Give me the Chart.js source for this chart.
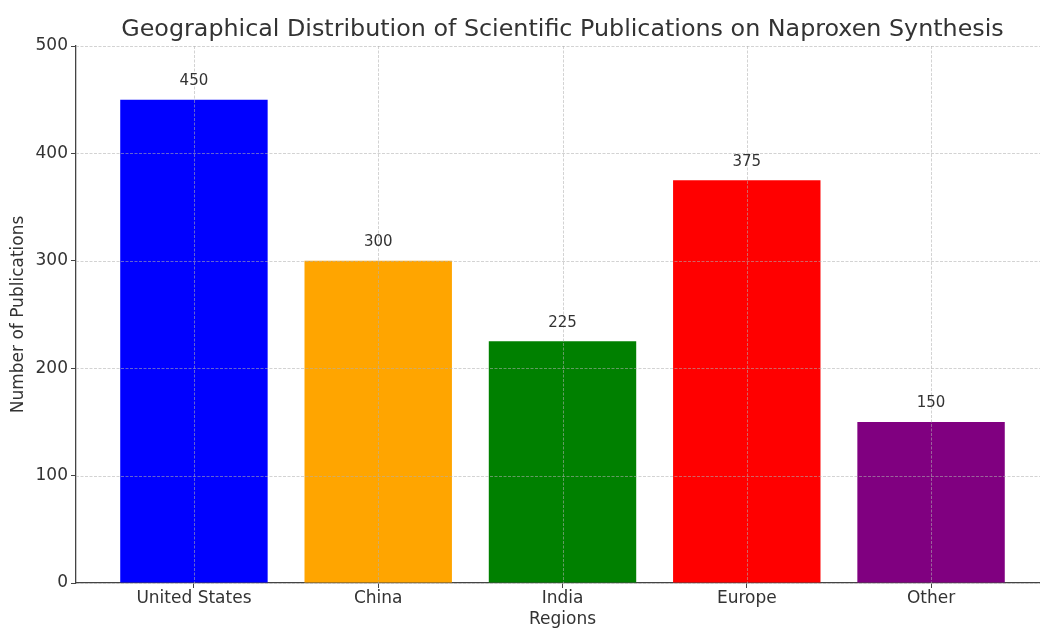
<!DOCTYPE html>
<html>
<head>
<meta charset="utf-8">
<script src="https://cdn.jsdelivr.net/npm/chart.js@4.4.0/dist/chart.umd.min.js"></script>
<style>
html,body{margin:0;padding:0;background:#fff;overflow:hidden;width:1040px;height:628px;}
canvas{display:block;}
</style>
</head>
<body>
<canvas id="c" width="1060" height="628"></canvas>
<script>
const categories = ["United States", "China", "India", "Europe", "Other"];
const publications = [450, 300, 225, 375, 150];
const barColors = ["#0000ff", "#ffa500", "#008000", "#ff0000", "#800080"];
const yTicks = [0, 100, 200, 300, 400, 500];
const titleText = "Geographical Distribution of Scientific Publications on Naproxen Synthesis";

const FONT = "'DejaVu Sans', sans-serif";
const TEXT = "#333333";

const overlayGrid = {
  id: 'overlayGrid',
  afterDatasetsDraw(chart) {
    const {ctx, chartArea: a, scales: {x, y}} = chart;
    ctx.save();
    ctx.strokeStyle = 'rgba(176,176,176,0.7)';
    ctx.lineWidth = 0.8;
    ctx.setLineDash([3, 1.5]);
    x.ticks.forEach((t) => {
      const px = Math.round(x.getPixelForValue(t.value)) + 0.5;
      ctx.beginPath(); ctx.moveTo(px, a.top); ctx.lineTo(px, a.bottom); ctx.stroke();
    });
    y.ticks.forEach((t) => {
      const py = Math.round(y.getPixelForValue(t.value)) + 0.5;
      ctx.beginPath(); ctx.moveTo(a.left, py); ctx.lineTo(a.right, py); ctx.stroke();
    });
    ctx.setLineDash([]);
    // value labels
    ctx.fillStyle = TEXT;
    ctx.font = "15px " + FONT;
    ctx.textAlign = 'center';
    ctx.textBaseline = 'bottom';
    const meta = chart.getDatasetMeta(0);
    meta.data.forEach((bar, i) => {
      ctx.fillText(String(publications[i]), bar.x, bar.y - 11);
    });
    // title centred over the plot area
    ctx.font = "23.8px " + FONT;
    ctx.textBaseline = 'middle';
    ctx.fillText(titleText, (a.left + a.right) / 2, 30);
    ctx.restore();
  }
};

new Chart(document.getElementById('c'), {
  type: 'bar',
  data: {
    datasets: [{
      data: publications.map((v, i) => ({x: i, y: v})),
      backgroundColor: barColors,
      borderWidth: 0,
      categoryPercentage: 1.0,
      barPercentage: 0.8
    }]
  },
  options: {
    responsive: false,
    animation: false,
    layout: {padding: {left: 0, right: 11, top: 46, bottom: 0}},
    plugins: {
      legend: {display: false},
      tooltip: {enabled: false},
      title: {display: false}
    },
    scales: {
      x: {
        type: 'linear',
        offset: false,
        min: -0.64,
        max: 4.64,
        afterBuildTicks(scale) {
          scale.ticks = categories.map((_, i) => ({value: i}));
        },
        afterFit(scale) { scale.height = 45; },
        ticks: {
          color: TEXT,
          font: {family: FONT, size: 17},
          padding: 0,
          maxRotation: 0,
          autoSkip: false,
          callback: (v) => categories[v]
        },
        grid: {color: 'transparent', drawOnChartArea: false, tickColor: '#444', tickLength: 5, offset: false},
        border: {display: true, color: '#444', width: 1.3},
        title: {display: true, text: 'Regions', color: TEXT, font: {family: FONT, size: 17}, padding: {top: 0, bottom: -2}}
      },
      y: {
        type: 'linear',
        min: 0,
        max: 500,
        afterBuildTicks(scale) {
          scale.ticks = yTicks.map((v) => ({value: v}));
        },
        afterFit(scale) { scale.width = 76; },
        ticks: {color: TEXT, font: {family: FONT, size: 17}, padding: 3},
        grid: {color: 'transparent', drawOnChartArea: false, tickColor: '#444', tickLength: 5},
        border: {display: true, color: '#444', width: 1.3},
        title: {display: true, text: 'Number of Publications', color: TEXT, font: {family: FONT, size: 17}, padding: {top: 8, bottom: 0}}
      }
    }
  },
  plugins: [overlayGrid]
});
</script>
</body>
</html>
